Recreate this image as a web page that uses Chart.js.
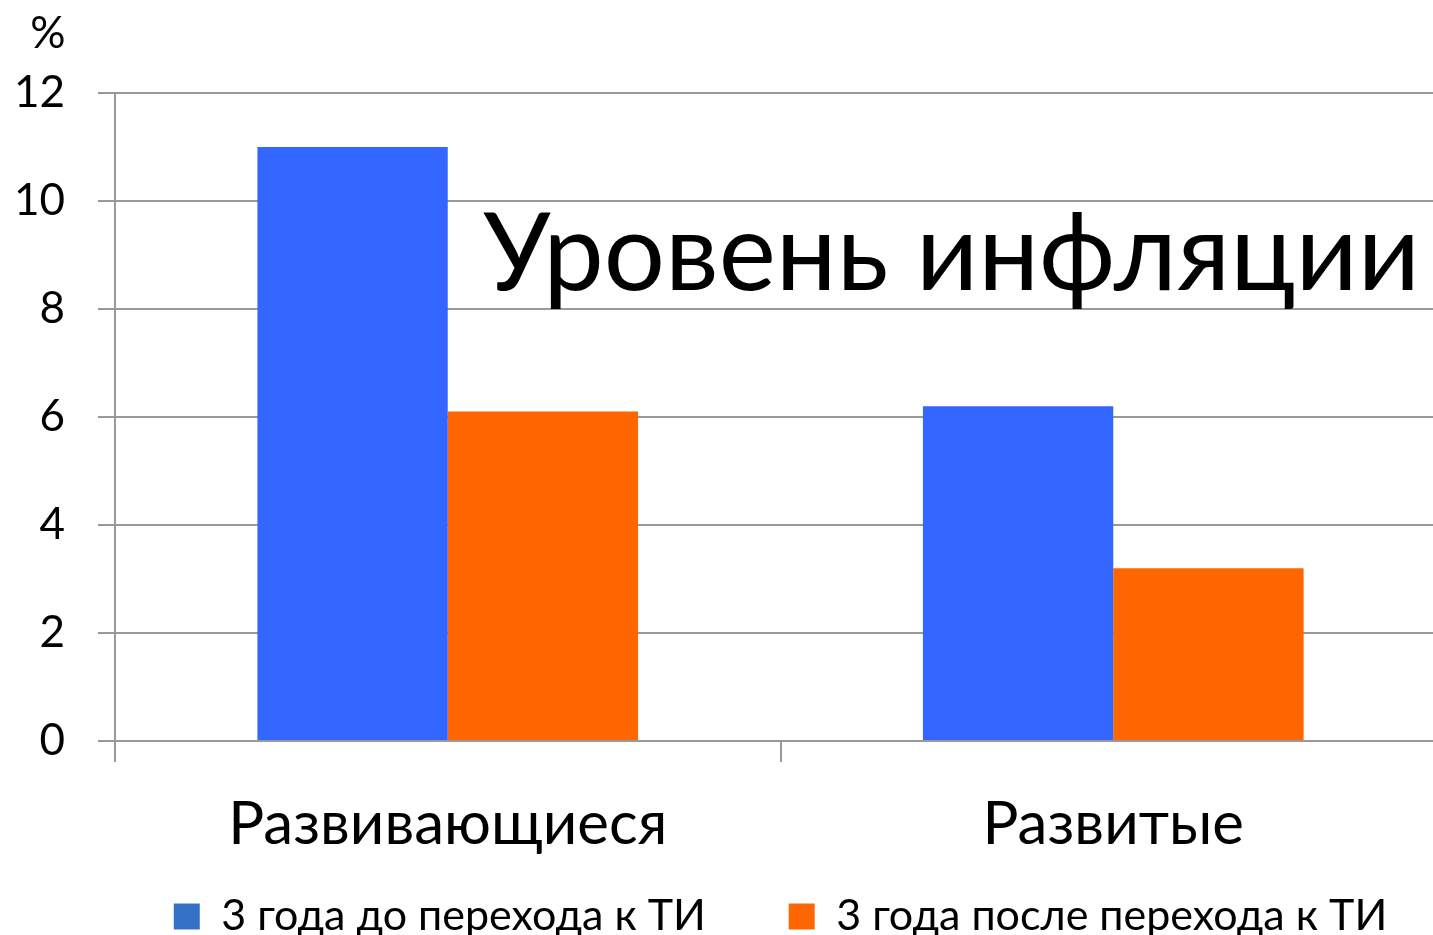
<!DOCTYPE html>
<html>
<head>
<meta charset="utf-8">
<script src="https://cdn.jsdelivr.net/npm/chart.js@4.4.0/dist/chart.umd.min.js"></script>
<style>
    html, body { margin: 0; padding: 0; background: #fff; overflow: hidden; }
    #wrap { position: relative; width: 1446px; height: 957px; }
</style>
</head>
<body>
<div id="wrap"><canvas id="inflation_charts"></canvas></div>
<script>
// 分類・値
const categories = ["Развивающиеся", "Развитые"];
const series_names = ["3 года до перехода к ТИ", "3 года после перехода к ТИ"];
const before_values = [11.0, 6.2];
const after_values = [6.1, 3.2];
const y_ticks = [0, 2, 4, 6, 8, 10, 12];

const BLUE_BAR = '#3366ff';
const ORANGE_BAR = '#ff6600';
const BLUE_LEGEND = '#3472c8';
const GRID = '#999999';
const FONT = 'Lato, "Noto Sans", sans-serif';

// 見出し・単位の描画
const overlayText = {
    id: 'overlayText',
    afterDraw(chart) {
        let ctx = chart.ctx;
        ctx.save();
        ctx.fillStyle = '#000';
        ctx.textBaseline = 'alphabetic';
        ctx.textAlign = 'left';
        ctx.font = '104px ' + FONT;
        let title = 'Уровень инфляции';
        let w = ctx.measureText(title).width;
        let size = 104 * 937 / w;
        ctx.font = size + 'px ' + FONT;
        ctx.fillText(title, 483, 290);

        ctx.textAlign = 'center';
        ctx.font = '44px ' + FONT;
        ctx.fillText('%', 48, 48);
        ctx.restore();
    }
};

new Chart(document.getElementById("inflation_charts").getContext("2d"), {
    type: "bar",
    data: {
        labels: categories,
        datasets: [{
                label: series_names[0],
                backgroundColor: BLUE_BAR,
                borderWidth: 0,
                data: before_values
            },
            {
                label: series_names[1],
                backgroundColor: ORANGE_BAR,
                borderWidth: 0,
                data: after_values
            }
        ],
    },
    plugins: [overlayText],
    options: {
        responsive: true,
        maintainAspectRatio: false,
        animation: false,
        layout: { padding: { top: 93, left: 0, right: 0, bottom: 9 } },
        datasets: {
            bar: { categoryPercentage: 0.572, barPercentage: 1.0 }
        },
        plugins: {
            tooltip: { enabled: false },
            legend: {
                position: 'bottom',
                fullSize: false,
                labels: {
                    color: '#000',
                    font: { family: FONT, size: 43 },
                    boxWidth: 26,
                    boxHeight: 26,
                    padding: 7,
                    generateLabels: function(chart) {
                        let items = Chart.defaults.plugins.legend.labels.generateLabels(chart);
                        items[0].fillStyle = BLUE_LEGEND;
                        // 項目間の余白
                        items[0].text = items[0].text + '\u2003\u2002  ';
                        items.forEach(function(it) { it.lineWidth = 0; it.strokeStyle = 'transparent'; });
                        return items;
                    }
                }
            }
        },
        scales: {
            x: {
                offset: true,
                grid: {
                    offset: true,
                    drawOnChartArea: false,
                    drawTicks: true,
                    tickLength: 21,
                    color: GRID,
                    lineWidth: 2
                },
                border: { color: GRID, width: 2 },
                ticks: {
                    color: '#000',
                    font: { family: FONT, size: 60 },
                    padding: 27
                }
            },
            y: {
                min: 0,
                max: 12,
                afterBuildTicks: function(scale) {
                    scale.ticks = y_ticks.map(function(v) { return { value: v }; });
                },
                afterFit: function(scale) { scale.width = 115; },
                grid: {
                    color: GRID,
                    lineWidth: 2,
                    tickLength: 17
                },
                border: { color: GRID, width: 2 },
                ticks: {
                    color: '#000',
                    font: { family: FONT, size: 44 },
                    padding: 33
                }
            }
        }
    }
});
</script>
</body>
</html>
